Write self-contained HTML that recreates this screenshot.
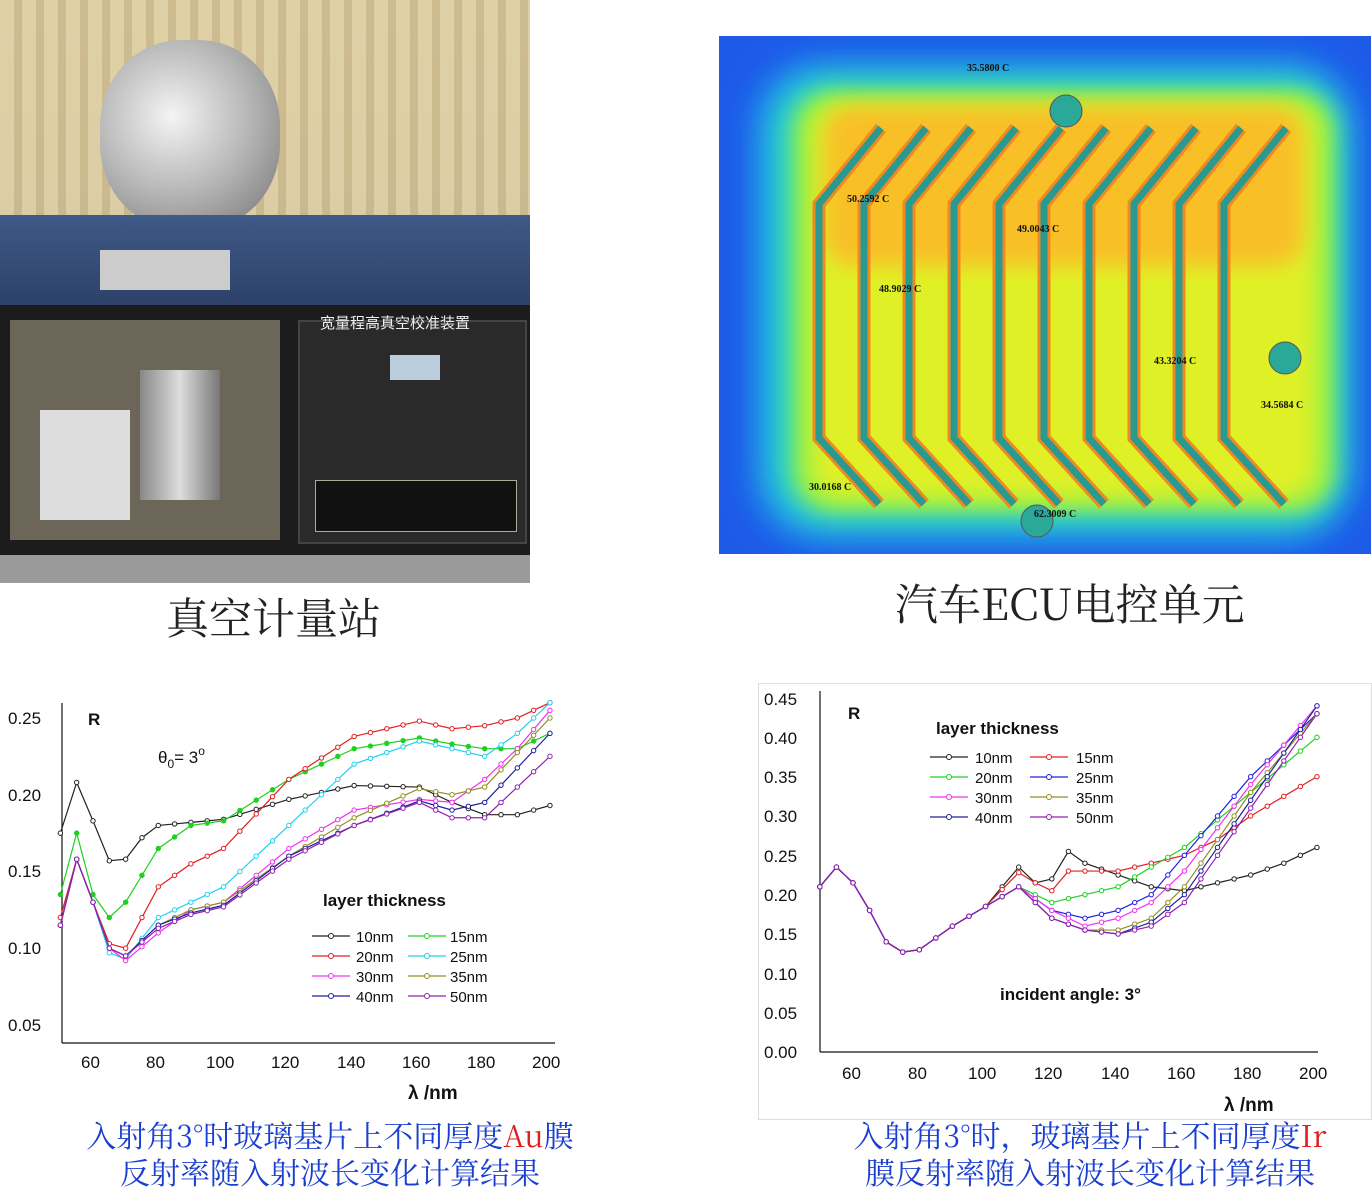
<!DOCTYPE html>
<html><head><meta charset="utf-8">
<style>
html,body{margin:0;padding:0;background:#fff;}
body{width:1372px;height:1200px;position:relative;overflow:hidden;font-family:"Liberation Sans","Noto Sans CJK SC",sans-serif;}
.abs{position:absolute;}
.cap{position:absolute;font-family:"Noto Serif CJK SC","Liberation Serif",serif;color:#222;}
.bcap{position:absolute;font-family:"Noto Serif CJK SC","Liberation Serif",serif;color:#1a3fd0;font-size:30px;line-height:37px;text-align:center;}
.red{color:#e02020;}
</style></head><body>

<!-- Photo -->
<div class="abs" style="left:0;top:0;width:530px;height:583px;background:linear-gradient(180deg,#d8c79c 0%,#cdbf9a 30%,#b8b3a6 40%,#9a9a9a 100%);overflow:hidden">
  <div class="abs" style="left:0;top:0;width:530px;height:230px;background:repeating-linear-gradient(90deg,#e2d2a8 0 14px,#cbb98c 14px 22px);opacity:.8"></div>
  <div class="abs" style="left:100px;top:40px;width:180px;height:190px;border-radius:45%;background:radial-gradient(circle at 40% 40%,#f4f4f4,#b5b5b5 50%,#707070);"></div>
  <div class="abs" style="left:0;top:215px;width:530px;height:95px;background:linear-gradient(180deg,#3e5a86,#2c4068)"></div>
  <div class="abs" style="left:100px;top:250px;width:130px;height:40px;background:#ccc"></div>
  <div class="abs" style="left:0;top:305px;width:530px;height:255px;background:#1c1c1c"></div>
  <div class="abs" style="left:10px;top:320px;width:270px;height:220px;background:#6b6658"></div>
  <div class="abs" style="left:140px;top:370px;width:80px;height:130px;background:linear-gradient(90deg,#888,#ddd,#777)"></div>
  <div class="abs" style="left:40px;top:410px;width:90px;height:110px;background:#ddd"></div>
  <div class="abs" style="left:298px;top:320px;width:225px;height:220px;background:#2a2a2a;border:2px solid #444"></div>
  <div class="abs" style="left:320px;top:312px;color:#eee;font-size:15px;font-family:'Liberation Sans','Noto Sans CJK SC',sans-serif">宽量程高真空校准装置</div>
  <div class="abs" style="left:390px;top:355px;width:50px;height:25px;background:#bcd"></div>
  <div class="abs" style="left:315px;top:480px;width:200px;height:50px;background:#111;border:1px solid #aa9"></div>
  <div class="abs" style="left:0;top:555px;width:530px;height:28px;background:#9a9a9a"></div>
</div>
<div class="cap" style="left:166px;top:586px;font-size:43px">真空计量站</div>

<!-- Thermal -->
<svg class="abs" style="left:719px;top:36px" width="652" height="518">
 <defs>
  <filter id="bl"><feGaussianBlur stdDeviation="18"/></filter>
  <filter id="bl2"><feGaussianBlur stdDeviation="10"/></filter>
 </defs>
 <rect width="652" height="518" fill="#1e5ae8"/>
 <rect x="40" y="30" width="590" height="470" rx="60" fill="#1ab4f0" filter="url(#bl)"/>
 <rect x="60" y="45" width="560" height="440" rx="50" fill="#30e0b0" filter="url(#bl)"/>
 <rect x="75" y="55" width="540" height="420" rx="40" fill="#a0f040" filter="url(#bl2)"/>
 <rect x="95" y="70" width="500" height="390" rx="30" fill="#e0f028" filter="url(#bl2)"/>
 <rect x="105" y="70" width="480" height="160" rx="30" fill="#f8c028" filter="url(#bl2)"/>
 <g fill="none" stroke="#f08a20" stroke-width="12" id="st">
  <path d="M100,165 L160,95 M100,165 L100,400 L165,470"/>
 </g>
 <g id="strips"></g>
 <circle cx="347" cy="75" r="16" fill="#2aa898" stroke="#555"/>
 <circle cx="566" cy="322" r="16" fill="#2aa898" stroke="#555"/>
 <circle cx="318" cy="485" r="16" fill="#2aa898" stroke="#555"/>
 <g font-size="10" font-weight="bold" fill="#111" font-family="Liberation Serif,serif">
  <text x="248" y="35">35.5800 C</text><text x="128" y="166">50.2592 C</text>
  <text x="298" y="196">49.0043 C</text><text x="160" y="256">48.9029 C</text>
  <text x="435" y="328">43.3204 C</text><text x="542" y="372">34.5684 C</text>
  <text x="90" y="454">30.0168 C</text><text x="315" y="481">62.3009 C</text>
 </g>
</svg>
<div class="cap" style="left:895px;top:572px;font-size:43px">汽车ECU电控单元</div>

<!-- Left chart -->
<svg class="abs" style="left:0;top:693px" width="572" height="412">
 <g font-size="17" fill="#111" font-family="Liberation Sans,sans-serif">
  <text x="8" y="31">0.25</text><text x="8" y="108">0.20</text><text x="8" y="184">0.15</text>
  <text x="8" y="261">0.10</text><text x="8" y="338">0.05</text>
  <text x="81" y="375">60</text><text x="146" y="375">80</text><text x="206" y="375">100</text>
  <text x="271" y="375">120</text><text x="337" y="375">140</text><text x="402" y="375">160</text>
  <text x="467" y="375">180</text><text x="532" y="375">200</text>
  <text x="408" y="406" font-weight="bold" font-size="19">λ /nm</text>
  <text x="88" y="32" font-weight="bold">R</text>
  <text x="158" y="70">θ<tspan font-size="12" dy="5">0</tspan><tspan dy="-5">= 3</tspan><tspan font-size="12" dy="-8">o</tspan></text>
  <text x="323" y="213" font-weight="bold">layer thickness</text>
  <g font-size="15">
  <text x="356" y="249">10nm</text><text x="450" y="249">15nm</text>
  <text x="356" y="269">20nm</text><text x="450" y="269">25nm</text>
  <text x="356" y="289">30nm</text><text x="450" y="289">35nm</text>
  <text x="356" y="309">40nm</text><text x="450" y="309">50nm</text></g>
 </g>
 <g stroke="#111" stroke-width="1.2" fill="none">
  <line x1="62" y1="10" x2="62" y2="350"/><line x1="62" y1="350" x2="555" y2="350"/>
 </g>
 <g id="p1"></g>
</svg>

<!-- Right chart -->
<svg class="abs" style="left:758px;top:683px" width="614" height="437">
 <rect x="0.5" y="0.5" width="613" height="436" fill="none" stroke="#ddd"/>
 <g font-size="17" fill="#111" font-family="Liberation Sans,sans-serif">
  <text x="6" y="22">0.45</text><text x="6" y="61">0.40</text><text x="6" y="100">0.35</text>
  <text x="6" y="139">0.30</text><text x="6" y="179">0.25</text><text x="6" y="218">0.20</text>
  <text x="6" y="257">0.15</text><text x="6" y="297">0.10</text><text x="6" y="336">0.05</text>
  <text x="6" y="375">0.00</text>
  <text x="84" y="396">60</text><text x="150" y="396">80</text><text x="210" y="396">100</text>
  <text x="276" y="396">120</text><text x="343" y="396">140</text><text x="409" y="396">160</text>
  <text x="475" y="396">180</text><text x="541" y="396">200</text>
  <text x="466" y="428" font-weight="bold" font-size="19">λ /nm</text>
  <text x="90" y="36" font-weight="bold">R</text>
  <text x="178" y="51" font-weight="bold">layer thickness</text>
  <text x="242" y="317" font-weight="bold">incident angle: 3°</text>
  <g font-size="15">
  <text x="217" y="80">10nm</text><text x="318" y="80">15nm</text>
  <text x="217" y="100">20nm</text><text x="318" y="100">25nm</text>
  <text x="217" y="120">30nm</text><text x="318" y="120">35nm</text>
  <text x="217" y="140">40nm</text><text x="318" y="140">50nm</text></g>
 </g>
 <g stroke="#111" stroke-width="1.2" fill="none">
  <line x1="62" y1="8" x2="62" y2="369"/><line x1="62" y1="369" x2="560" y2="369"/>
 </g>
 <g id="p2"></g>
</svg>

<div class="bcap" style="left:20px;top:1116px;width:620px">入射角3°时玻璃基片上不同厚度<span class="red">Au</span>膜<br>反射率随入射波长变化计算结果</div>
<div class="bcap" style="left:785px;top:1116px;width:610px">入射角3°时，玻璃基片上不同厚度<span class="red">Ir</span><br>膜反射率随入射波长变化计算结果</div>

<script>
var NS="http://www.w3.org/2000/svg";
function el(t,a,p){var e=document.createElementNS(NS,t);for(var k in a)e.setAttribute(k,a[k]);p.appendChild(e);return e;}
// strips
var sg=document.getElementById("strips");
document.getElementById("st").innerHTML="";
for(var i=0;i<10;i++){var x=100+i*45;var d="M"+(x+62)+",92 L"+x+",168 L"+x+",402 L"+(x+60)+",468";
 el("path",{d:d,fill:"none",stroke:"#f08a20","stroke-width":13},sg);}
for(var i=0;i<10;i++){var x=100+i*45;var d="M"+(x+62)+",92 L"+x+",168 L"+x+",402 L"+(x+60)+",468";
 el("path",{d:d,fill:"none",stroke:"#2a9a90","stroke-width":7},sg);}
var colsL=["#222","#20d020","#e02020","#20d0f0","#f030f0","#909020","#2020a0","#9020b0"];
var colsR=["#222","#e02020","#20d020","#2020e0","#f030f0","#909020","#2020a0","#9020b0"];
function interp(pts,l){for(var i=0;i<pts.length-1;i++){if(l>=pts[i][0]&&l<=pts[i+1][0]){var t=(l-pts[i][0])/(pts[i+1][0]-pts[i][0]);return pts[i][1]+t*(pts[i+1][1]-pts[i][1]);}}return pts[pts.length-1][1];}
function draw(g,series,fx,fy,cols,filled){series.forEach(function(s,i){var pts=[];for(var l=50;l<=200;l+=5){var v=interp(s,l);pts.push([fx(l),fy(v)]);}
 el("polyline",{points:pts.map(function(p){return p.join(",")}).join(" "),fill:"none",stroke:cols[i],"stroke-width":1.2},g);
 pts.forEach(function(p){el("circle",{cx:p[0],cy:p[1],r:2.2,fill:i==filled?cols[i]:"#fff",stroke:cols[i],"stroke-width":1},g);});});}
function legend(g,x1,x2,y0,cols){for(var i=0;i<8;i++){var x=(i%2?x2:x1),y=y0+Math.floor(i/2)*20;el("line",{x1:x,y1:y,x2:x+38,y2:y,stroke:cols[i],"stroke-width":1.2},g);el("circle",{cx:x+19,cy:y,r:2.5,fill:"#fff",stroke:cols[i]},g);}}
var pre=[[50,.115],[55,.158],[60,.13]];
var L=[
[[50,.175],[55,.208],[60,.183],[65,.157],[70,.158],[75,.172],[80,.180],[90,.182],[100,.184],[120,.197],[140,.206],[160,.205],[170,.195],[180,.187],[190,.187],[200,.193]],
[[50,.135],[55,.175],[60,.135],[65,.12],[70,.13],[80,.165],[90,.180],[100,.183],[120,.210],[140,.230],[160,.237],[170,.233],[180,.230],[190,.230],[200,.24]],
[[50,.12],[55,.158],[60,.13],[65,.103],[70,.10],[75,.12],[80,.14],[90,.155],[100,.165],[120,.21],[140,.238],[160,.248],[170,.243],[180,.245],[190,.25],[200,.26]],
pre.concat([[65,.097],[70,.093],[80,.12],[90,.13],[100,.14],[120,.18],[140,.22],[160,.235],[170,.23],[180,.225],[190,.24],[200,.26]]),
pre.concat([[65,.1],[70,.092],[80,.11],[90,.125],[100,.13],[120,.165],[140,.19],[160,.197],[170,.195],[180,.21],[190,.23],[200,.255]]),
pre.concat([[65,.1],[70,.095],[80,.115],[90,.125],[100,.13],[120,.16],[140,.185],[160,.204],[170,.2],[180,.205],[200,.25]]),
pre.concat([[65,.1],[70,.095],[80,.115],[90,.123],[100,.128],[120,.16],[140,.18],[160,.196],[170,.19],[180,.195],[200,.24]]),
pre.concat([[65,.1],[70,.095],[80,.113],[90,.122],[100,.127],[120,.158],[140,.18],[160,.195],[170,.185],[180,.185],[200,.225]])];
var g1=document.getElementById("p1");
draw(g1,L,function(l){return 93+(l-60)*3.264},function(v){return 25+(0.25-v)*1535},colsL,1);
legend(g1,312,408,243,colsL);
var S=[[50,.21],[55,.235],[60,.215],[65,.18],[70,.14],[75,.127],[80,.13],[85,.145],[90,.16],[100,.185],[110,.21]];
var R=[
S.slice(0,10).concat([[110,.235],[115,.215],[120,.22],[125,.255],[130,.24],[140,.225],[150,.21],[160,.205],[170,.215],[180,.225],[190,.24],[200,.26]]),
S.slice(0,10).concat([[110,.228],[115,.215],[120,.205],[125,.23],[140,.23],[160,.25],[170,.27],[180,.3],[200,.35]]),
S.concat([[120,.19],[140,.21],[160,.26],[180,.33],[200,.40]]),
S.concat([[120,.18],[130,.17],[140,.18],[150,.2],[160,.25],[180,.35],[200,.43]]),
S.concat([[120,.18],[130,.16],[140,.17],[150,.19],[160,.23],[180,.34],[200,.44]]),
S.concat([[120,.17],[130,.155],[140,.155],[150,.17],[160,.21],[180,.33],[200,.43]]),
S.concat([[120,.17],[130,.155],[140,.15],[150,.165],[160,.2],[180,.32],[200,.44]]),
S.concat([[120,.17],[130,.155],[140,.15],[150,.16],[160,.19],[180,.31],[200,.43]])];
var g2=document.getElementById("p2");
draw(g2,R,function(l){return 95+(l-60)*3.314},function(v){return 369-v*786.7},colsR,-1);
legend(g2,172,272,74,colsR);
</script>
</body></html>
